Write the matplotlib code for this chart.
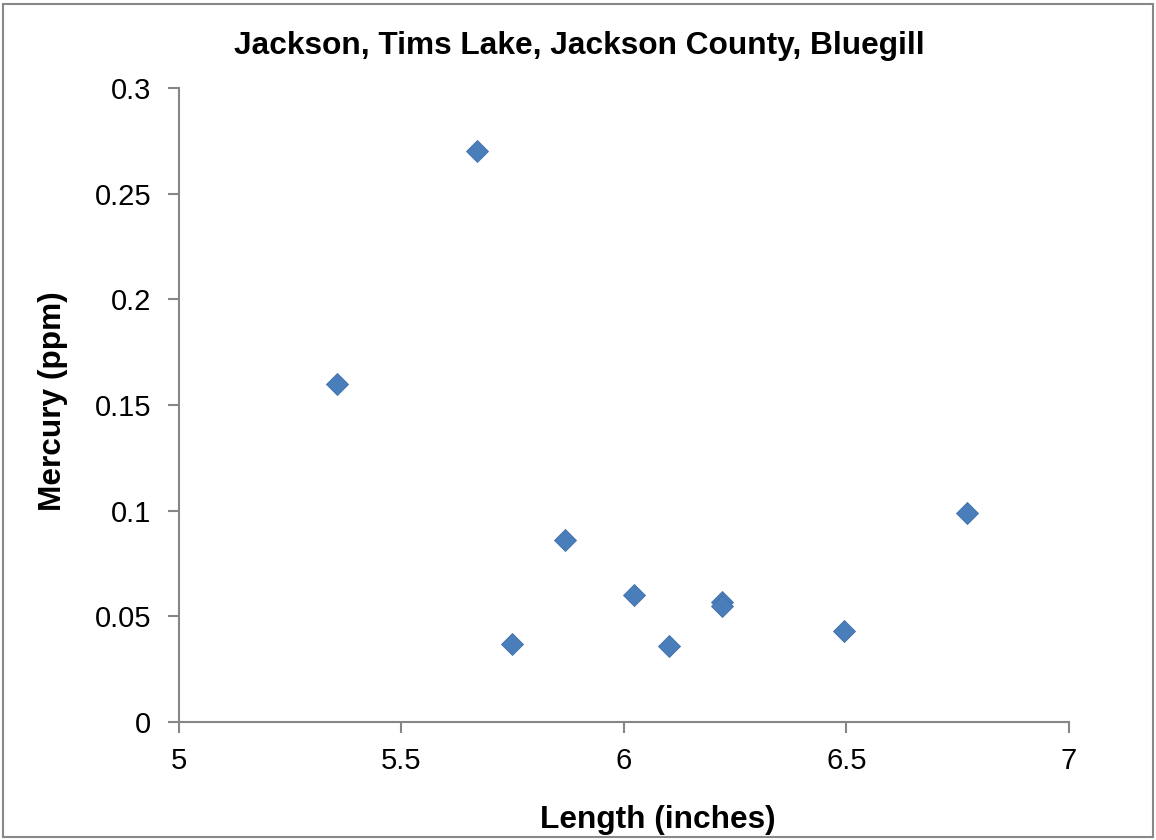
import matplotlib.pyplot as plt
from matplotlib.patches import Rectangle

plt.rcParams['font.family'] = ['Liberation Sans', 'DejaVu Sans']

# fish samples: length vs mercury
length = [5.355, 5.67, 5.867, 5.748, 6.022, 6.101, 6.22, 6.22, 6.494, 6.771]
mercury = [0.160, 0.270, 0.086, 0.037, 0.060, 0.036, 0.057, 0.055, 0.043, 0.099]

title = "Jackson, Tims Lake, Jackson County, Bluegill"
xlabel = "Length (inches)"
ylabel = "Mercury (ppm)"
xticks = [5, 5.5, 6, 6.5, 7]
xticklabels = ["5", "5.5", "6", "6.5", "7"]
yticks = [0, 0.05, 0.1, 0.15, 0.2, 0.25, 0.3]
yticklabels = ["0", "0.05", "0.1", "0.15", "0.2", "0.25", "0.3"]

fig = plt.figure(figsize=(11.56, 8.4), dpi=100)
ax = fig.add_axes([0.1548, 0.1405, 0.7699, 0.7547])

ax.plot(length, mercury, linestyle='none', marker='D', markersize=11,
        color='#4a7ebb', markeredgecolor='#3f6fa8', markeredgewidth=0.6)

ax.set_xlim(5, 7)
ax.set_ylim(0, 0.3)
ax.set_xticks(xticks)
ax.set_xticklabels(xticklabels)
ax.set_yticks(yticks)
ax.set_yticklabels(yticklabels)

for s in ['top', 'right']:
    ax.spines[s].set_visible(False)
for s in ['left', 'bottom']:
    ax.spines[s].set_color('#868686')
    ax.spines[s].set_linewidth(1.5)
ax.tick_params(direction='out', length=8, width=1.5, color='#868686',
               labelsize=21)
ax.tick_params(axis='y', pad=12)
ax.tick_params(axis='x', pad=10)

fig.text(0.501, 0.945, title, ha='center', va='center', fontsize=22.8, fontweight='bold')
fig.text(0.569, 0.024, xlabel, ha='center', va='center', fontsize=22.8, fontweight='bold')
fig.text(0.046, 0.523, ylabel, ha='center', va='center', rotation=90,
         fontsize=22.8, fontweight='bold')

# thin frame around the chart area
fig.patches.append(Rectangle((0.003, 0.003), 0.994, 0.992, transform=fig.transFigure,
                             fill=False, edgecolor='#888888', linewidth=1.5))

fig.savefig('out.png', dpi=100)
